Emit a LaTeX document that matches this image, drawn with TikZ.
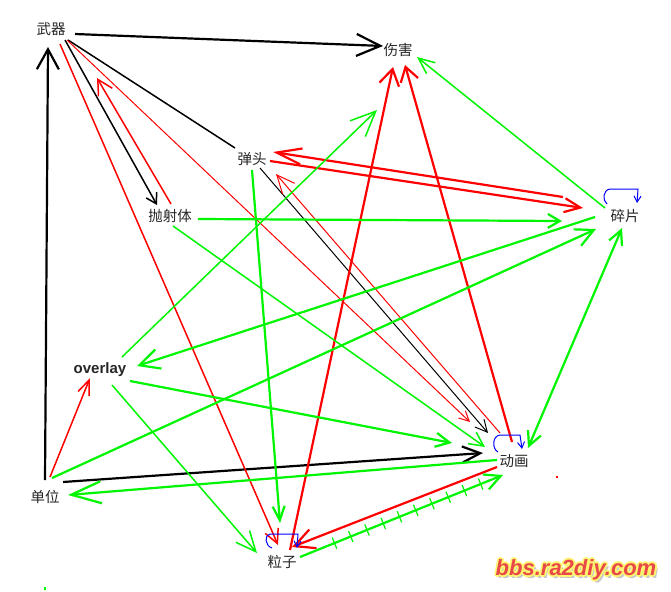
\documentclass[tikz,border=0pt]{standalone}
\usepackage{fontspec}
\newfontfamily\cjk{Noto Sans CJK SC}
\newfontfamily\lsans{Liberation Sans}
\usetikzlibrary{arrows.meta,calc,decorations.markings}
\definecolor{pgreen}{RGB}{0,245,0}
\definecolor{pred}{RGB}{255,0,0}
\definecolor{pblue}{RGB}{0,0,255}
\definecolor{wmred}{RGB}{232,72,72}
\definecolor{wmglow}{RGB}{255,245,110}
\tikzset{
  bk/.style={draw=black}, rd/.style={draw=pred}, gn/.style={draw=pgreen}, bl/.style={draw=pblue},
  wA/.style={line width=2.2pt}, wB/.style={line width=1.5pt}, wC/.style={line width=1pt},
  ah/.style 2 args={arrows={-Straight Barb[length=#1pt,width=#2pt]}},
  dah/.style 2 args={arrows={Straight Barb[length=#1pt,width=#2pt]-Straight Barb[length=#1pt,width=#2pt]}},
  lbl/.style={font=\cjk\fontsize{14.5}{17}\selectfont, inner sep=0pt, text=black!85},
  wmtext/.style={font=\lsans\bfseries\itshape\fontsize{22}{24}\selectfont, inner sep=0pt},
  hatch/.style={postaction={decorate}, decoration={markings,
     mark=between positions 0.17 and 0.9 step 0.08 with {\draw[pgreen,line width=1.2pt,arrows=-] (0pt,-6pt) -- (0pt,6pt);}}},
}
\begin{document}
\begin{tikzpicture}[x=1pt,y=-1pt]
\useasboundingbox (0,0) rectangle (671,591);
\fill[white] (0,0) rectangle (671,591);

% nodes
\node[lbl] (wq)  at (51,29)   {武器};
\node[lbl] (sh)  at (398,50)  {伤害};
\node[lbl] (dt)  at (252,159) {弹头};
\node[lbl] (psq) at (170,216) {抛射体};
\node[lbl] (sp)  at (625,216) {碎片};
\node[inner sep=0pt, font=\lsans\bfseries\fontsize{15}{17}\selectfont, text=black!85] (ov) at (100,370) {overlay};
\node[lbl] (dw)  at (45,497)  {单位};
\node[lbl] (dh)  at (514,461) {动画};
\node[lbl] (lz)  at (282,562) {粒子};

% black connectors
\draw[bk,wA,ah={24}{22}] ($(wq)+(24,5)$) -- ($(sh)+(-15,-4)$);
\draw[bk,wA,ah={20}{22}] ($(dw)+(0,-17)$) -- ($(wq)+(-3,18)$);
\draw[bk,wB,ah={10}{12}] ($(wq)+(14,11)$) -- ($(psq)+(-13,-11)$);
\draw[bk,wB] ($(wq)+(17,11)$) -- ($(dt)+(-17,-11)$);
\draw[bk,wC,ah={12}{12}] ($(dt)+(8,9)$) -- ($(dh)+(-26,-28)$);
\draw[bk,wA,ah={18}{16}] ($(dw)+(18,-15)$) -- ($(dh)+(-31,-8)$);

% red connectors
\draw[rd,wB,ah={15}{16}] ($(psq)+(1,-12)$) -- ($(wq)+(46,49)$);
\draw[rd,wC,ah={10}{10}] ($(wq)+(16,11)$) -- ($(dh)+(-44,-39)$);
\draw[rd,wB,ah={14}{14}] ($(wq)+(9,15)$) -- ($(lz)+(-4,-17)$);
\draw[rd,wA,ah={16}{20}] ($(lz)+(8,-12)$) -- ($(sh)+(-5,17)$);
\draw[rd,wA,ah={14}{18}] ($(dh)+(-2,-19)$) -- ($(sh)+(7,15)$);
\draw[rd,wA,ah={25}{16}] ($(sp)+(-62,-19)$) -- ($(dt)+(21,-7)$);
\draw[rd,wA,ah={16}{14}] ($(dt)+(18,2)$) -- ($(sp)+(-42,-8)$);
\draw[rd,wB,ah={15}{12}] ($(dw)+(5,-20)$) -- ($(ov)+(-10,8)$);
\draw[rd,wA,ah={20}{20}] ($(dh)+(-17,6)$) -- ($(lz)+(10,-15)$);
\draw[rd,wC,ah={18}{16}] ($(dh)+(-14,-28)$) -- ($(dt)+(24,15)$);

% green connectors
\draw[gn,wB,ah={16}{14}] ($(sp)+(-20,-8)$) -- ($(sh)+(19,7)$);
\draw[gn,wA,ah={12}{14}] ($(psq)+(28,3)$) -- ($(sp)+(-63,5)$);
\draw[gn,wB,ah={14}{14}] ($(psq)+(3,10)$) -- ($(dh)+(-29,-14)$);
\draw[gn,wA,ah={14}{12}] ($(dt)+(0,11)$) -- ($(lz)+(-2,-39)$);
\coordinate (ovsh) at ($(sh)+(-21,60)$);
\draw[gn,wB,ah={25}{22}] ($(ov)+(22,-13)$) -- (ovsh);
\draw[gn,wA,ah={20}{20}] ($(sp)+(-30,1)$) -- ($(ov)+(37,-4)$);
\draw[gn,wA,ah={18}{18}] ($(dw)+(7,-19)$) -- ($(sp)+(-29,13)$);
\draw[gn,wA,dah={14}{14}] ($(sp)+(-3,12)$) -- ($(dh)+(14,-13)$);
\draw[gn,wA,ah={14}{14}] ($(ov)+(30,11)$) -- ($(dh)+(-62,-18)$);
\draw[gn,wB,ah={20}{18}] ($(ov)+(12,15)$) -- ($(lz)+(-25,-9)$);
\draw[gn,wA,ah={30}{22}] ($(dh)+(-17,-1)$) -- ($(dw)+(23,-2)$);
\draw[gn,wA,ah={16}{16},hatch] ($(lz)+(18,-5)$) -- ($(dh)+(-11,14)$);

% blue self loops
\draw[bl,wC,arrows={-Straight Barb[length=6pt,width=7pt]}] ($(sp)+(-18,-12)$) .. controls ($(sp)+(-23,-16)$) and ($(sp)+(-22,-26)$) .. ($(sp)+(-15,-27)$) -- ($(sp)+(13,-27)$) -- ($(sp)+(12,-13)$);
\draw[bl,wC,arrows={-Straight Barb[length=6pt,width=7pt]}] ($(dh)+(-16,-9)$) .. controls ($(dh)+(-22,-12)$) and ($(dh)+(-22,-25)$) .. ($(dh)+(-14,-26)$) -- ($(dh)+(6,-26)$) -- ($(dh)+(8,-12)$);
\draw[bl,wC,arrows={-Straight Barb[length=6pt,width=7pt]}] ($(lz)+(-10,-14)$) .. controls ($(lz)+(-17,-16)$) and ($(lz)+(-18,-27)$) .. ($(lz)+(-12,-28)$) -- ($(lz)+(16,-28)$) -- ($(lz)+(15,-14)$);

% stray dots
\fill[pred] (556,476) rectangle (558,478);
\fill[pgreen] (44,587) rectangle (46,590);

% watermark with glow and soft shadow
\coordinate (wm) at (576,570);
\node[wmtext, text=black, opacity=0.22] (wmsh) at ($(wm)+(2.5,2.5)$) {bbs.ra2diy.com};
\foreach \i/\dx/\dy in {1/1.8/0, 2/-1.8/0, 3/0/1.8, 4/0/-1.8, 5/1.3/1.3, 6/-1.3/1.3, 7/1.3/-1.3, 8/-1.3/-1.3}
  \node[wmtext, text=wmglow] (wmg\i) at ($(wm)+(\dx,\dy)$) {bbs.ra2diy.com};
\node[wmtext, text=wmred] (wmt) at (wm) {bbs.ra2diy.com};
\end{tikzpicture}
\end{document}
